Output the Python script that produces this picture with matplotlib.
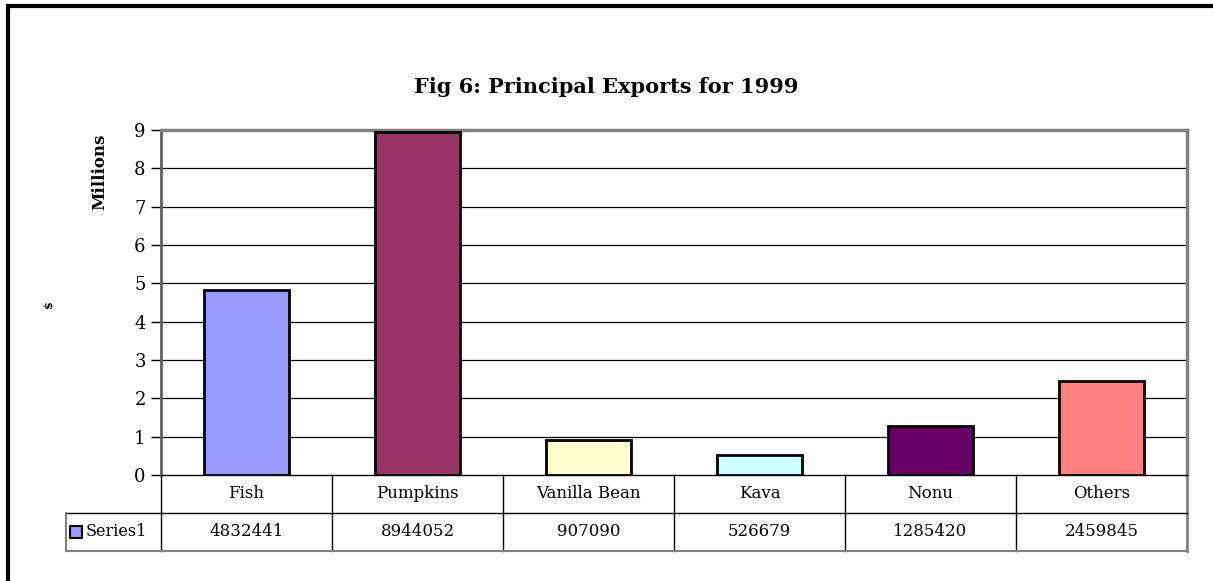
import numpy as np
import matplotlib.pyplot as plt
from matplotlib.patches import Rectangle
import matplotlib.transforms as mtransforms

# principal exports, 1999 ($)
categories = ['Fish', 'Pumpkins', 'Vanilla Bean', 'Kava', 'Nonu', 'Others']
values = [4832441, 8944052, 907090, 526679, 1285420, 2459845]
colors = ['#9999FF', '#993366', '#FFFFCC', '#CCFFFF', '#660066', '#FF8080']
series_name = 'Series1'

plt.rcParams['font.family'] = ['DejaVu Serif']

W, H = 1213, 581
fig = plt.figure(figsize=(W / 100, H / 100), dpi=100)

# plot area in pixels
left, right, top, bottom = 161, 1187, 130, 475
ax = fig.add_axes([left / W, 1 - bottom / H, (right - left) / W, (bottom - top) / H])

x = np.arange(len(categories))
vals_m = np.array(values) / 1e6
ax.bar(x, vals_m, width=0.5, color=colors, edgecolor='black', linewidth=2, zorder=3)

ax.set_xlim(-0.5, len(categories) - 0.5)
ax.set_ylim(0, 9)
ax.set_yticks(range(0, 10))
ax.tick_params(axis='y', length=7, width=1, labelsize=13, pad=4, colors='black')
ax.tick_params(axis='x', bottom=False, labelbottom=False)
for y in range(1, 9):
    ax.axhline(y, color='black', lw=0.9, zorder=1)

for side in ['top', 'right']:
    ax.spines[side].set_color('#808080')
    ax.spines[side].set_linewidth(2.5)
ax.spines['left'].set_color('#606060')
ax.spines['left'].set_linewidth(2)
ax.spines['bottom'].set_color('black')
ax.spines['bottom'].set_linewidth(1)

# data table under the plot
row_h = 38 / (bottom - top)
trans = mtransforms.blended_transform_factory(ax.transData, ax.transAxes)
lkw = dict(transform=trans, clip_on=False, color='black', lw=1)
x0 = -0.5
x1 = len(categories) - 0.5
ax.plot([x0, x0], [0, -2 * row_h], **lkw)
ax.plot([x1, x1], [0, -2 * row_h], color='#808080', lw=2, transform=trans, clip_on=False)
for i in range(1, len(categories)):
    ax.plot([i - 0.5, i - 0.5], [0, -2 * row_h], **lkw)
ax.plot([x0, x1], [-row_h, -row_h], **lkw)
ax.plot([x0, x1], [-2 * row_h, -2 * row_h], color='#808080', lw=1.5, transform=trans, clip_on=False)

# series header cell
cell_l = 66 / W
ax_l = left / W
ax_w = (right - left) / W
hx = (cell_l - ax_l) / ax_w  # axes fraction
ax.plot([hx, 0], [-row_h, -row_h], transform=ax.transAxes, clip_on=False, color='black', lw=1)
ax.plot([hx, 0], [-2 * row_h, -2 * row_h], transform=ax.transAxes, clip_on=False, color='#808080', lw=1.5)
ax.plot([hx, hx], [-row_h, -2 * row_h], transform=ax.transAxes, clip_on=False, color='#808080', lw=1.5)

for i, (c, v) in enumerate(zip(categories, values)):
    ax.text(i, -0.5 * row_h, c, transform=trans, ha='center', va='center', fontsize=12)
    ax.text(i, -1.5 * row_h, str(v), transform=trans, ha='center', va='center', fontsize=12)

key_w = 12 / (right - left)
key_h = 12 / (bottom - top)
kx = (70 - left) / (right - left)
ax.add_patch(Rectangle((kx, -1.5 * row_h - key_h / 2), key_w, key_h, transform=ax.transAxes,
                       facecolor=colors[0], edgecolor='black', lw=1.5, clip_on=False))
ax.text((86 - left) / (right - left), -1.5 * row_h, series_name, transform=ax.transAxes,
        ha='left', va='center', fontsize=11.5)

# axis titles and chart title
fig.text(100 / W, 1 - 172 / H, 'Millions', rotation=90, ha='center', va='center',
         fontsize=12, fontweight='bold')
fig.text(48 / W, 1 - 304 / H, '$', rotation=90, ha='center', va='center',
         fontsize=8, fontweight='bold')
fig.text(606 / W, 1 - 87 / H, 'Fig 6: Principal Exports for 1999', ha='center', va='center',
         fontsize=15, fontweight='bold')

# chart border (right and bottom edges run off the image)
fig.add_artist(Rectangle((8 / W, -0.1), 1.2, 1 - 6 / H + 0.1, transform=fig.transFigure,
                         fill=False, edgecolor='black', lw=3))

fig.savefig('out.png', dpi=100)
